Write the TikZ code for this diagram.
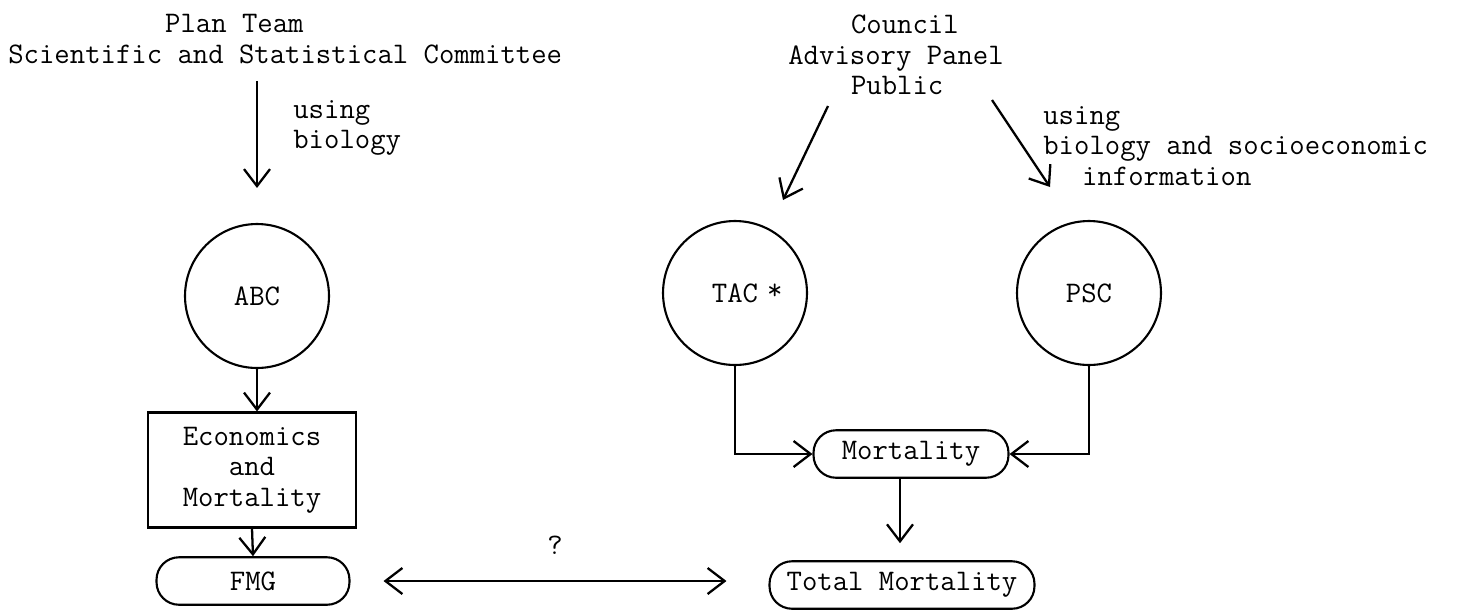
\documentclass[tikz,border=0pt]{standalone}
\usepackage{tikz}
\usetikzlibrary{arrows.meta}
\usetikzlibrary{shapes}
\usetikzlibrary{positioning}
\tikzstyle{every node} = [
    font=\ttfamily\fontsize{17pt}{17.4pt}\selectfont
]
\tikzstyle{quota} = [
    circle,
    draw=black,
    line width=1.2pt,
    minimum size=2.88cm,
    inner sep=0pt
]
\tikzstyle{stage} = [
    rectangle,
    draw=black,
    line width=1.2pt,
    minimum width=4.16cm,
    minimum height=2.3cm,
    align=center,
    inner sep=0pt
]
\tikzstyle{pill}  = [
    rectangle,
    rounded corners=0.45cm,
    draw=black,
    line width=1.2pt,
    minimum height=0.95cm,
    inner sep=0pt
]
\tikzstyle{tran}  = [
    draw,
    line width=1.3pt,
    -{Straight Barb[length=3.4mm,width=5.2mm]}
]
\tikzstyle{both}  = [
    draw,
    line width=1.3pt,
    {Straight Barb[length=3.4mm,width=5.2mm]}-{Straight Barb[length=3.4mm,width=5.2mm]}
]
\tikzstyle{note}  = [align=left, inner sep=0pt, anchor=west]

\begin{document}
\begin{tikzpicture}[x=0.02cm, y=-0.02cm]
\useasboundingbox (0,0) rectangle (1461,613);

\node[note] (advice)   at (8,39)
{\hspace*{5.25em}Plan Team\\Scientific and Statistical Committee};
\node[note] (bioL)     at (293,128)  {using\\biology};

\node[quota] (abc)     at (257,296)  {ABC};
\node[stage] (econ)    at (252,470)  {Economics\\and\\Mortality};
\node[pill, minimum width=3.86cm] (fmg)   at (253,581)  {FMG};

\node[note] (council)  at (788,55)
{\hspace*{2.1em}Council\\Advisory Panel\\\hspace*{2.1em}Public};
\node[note] (bioR)     at (1043,146)
{using\\biology and socioeconomic\\\hspace*{1.3em}information};

\node[quota] (tac)     at (735,293)  {TAC\rlap{\hspace{0.3em}\raisebox{0.1em}{*}}};
\node[quota] (psc)     at (1089,293) {PSC};
\node[pill, minimum width=3.9cm]  (mort)  at (911,454)  {Mortality};
\node[pill, minimum width=5.3cm]  (total) at (902,585)  {Total Mortality};
\node[inner sep=0pt] (query)  at (555,545)  {?};

\coordinate (tacfrom) at (828,106);
\coordinate (tacto)   at (783,200);
\coordinate (pscfrom) at (992,100);
\coordinate (pscto)   at (1050,187);

\draw[tran, shorten <=0.34cm, shorten >=0.7cm] (advice.south -| abc.north) -- (abc.north);
\draw[tran]           (abc.south)   --  (abc.south |- econ.north);
\draw[tran]           (econ.south)  --  (fmg.north);
\draw[tran]           (tacfrom)     --  (tacto);
\draw[tran]           (pscfrom)     --  (pscto);
\draw[tran]           (tac.south)   |-  (mort.west);
\draw[tran]           (psc.south)   |-  (mort.east);
\draw[tran, shorten >=0.34cm] (mort.south -| 900,0) -- (total.north -| 900,0);
\draw[both, shorten <=0.66cm, shorten >=0.84cm] (fmg.east) -- (fmg.east -| total.west);
\end{tikzpicture}
\end{document}
